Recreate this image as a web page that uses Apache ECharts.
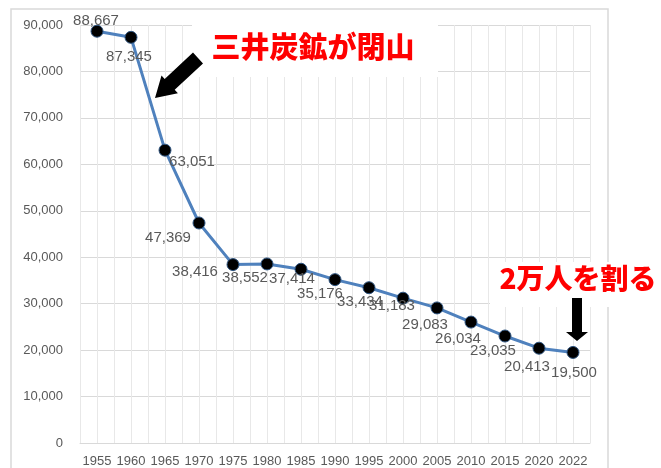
<!DOCTYPE html>
<html>
<head>
<meta charset="utf-8">
<script src="https://cdn.jsdelivr.net/npm/echarts@6/dist/echarts.min.js"></script>
<style>
  html, body { margin: 0; padding: 0; background: #fff; }
  #chart { width: 661px; height: 468px; }
</style>
</head>
<body>
<div id="chart"></div>
<script>
// 人口の推移
const years = ['1955', '1960', '1965', '1970', '1975', '1980', '1985', '1990', '1995', '2000', '2005', '2010', '2015', '2020', '2022'];
const population = [88667, 87345, 63051, 47369, 38416, 38552, 37414, 35176, 33434, 31183, 29083, 26034, 23035, 20413, 19500];
const yMin = 0;
const yMax = 90000;
const yStep = 10000;
const noteClose = '三井炭鉱が閉山';
const noteUnder = '2万人を割る';

// where each data label sits relative to its point (px)
const labelOffsets = [
  [-1, -10], [-2, 20], [27, 12], [-31, 15], [-38, 7], [-22, 14], [-9, 10], [-15, 14],
  [-9, 14], [-11, 8], [-12, 17], [-13, 17], [-12, 15], [-12, 19], [1, 20]
];

const chart = echarts.init(document.getElementById('chart'));

const gridColor = '#d9d9d9';
const textGray = '#595959';
const lineBlue = '#4f81bd';

const option = {
  backgroundColor: '#fff',
  animation: false,
  grid: { left: 80, right: 71, top: 25, bottom: 25, containLabel: false },
  xAxis: [
    {
      type: 'category',
      data: years,
      boundaryGap: true,
      axisLine: { show: true, lineStyle: { color: gridColor, width: 1 } },
      axisTick: { show: false },
      axisLabel: { color: textGray, fontSize: 13, margin: 12, interval: 0, fontFamily: 'Liberation Sans' },
      splitLine: { show: true, interval: 0, lineStyle: { color: '#e8e8e8', width: 1 } }
    },
    {
      // half-category vertical grid lines
      type: 'category',
      data: Array.from({ length: years.length * 2 }, (_, i) => String(i)),
      boundaryGap: true,
      position: 'bottom',
      axisLine: { show: false },
      axisTick: { show: false },
      axisLabel: { show: false },
      splitLine: { show: true, interval: 0, lineStyle: { color: '#e8e8e8', width: 1 } }
    }
  ],
  yAxis: {
    type: 'value',
    min: yMin,
    max: yMax,
    interval: yStep,
    axisLine: { show: false },
    axisTick: { show: false },
    axisLabel: {
      color: textGray,
      fontSize: 13,
      margin: 17,
      fontFamily: 'Liberation Sans',
      formatter: v => v.toLocaleString('en-US')
    },
    splitLine: { show: true, lineStyle: { color: gridColor, width: 1 } }
  },
  series: [
    {
      type: 'line',
      xAxisIndex: 0,
      data: population.map((v, i) => ({
        value: v,
        label: { offset: labelOffsets[i] }
      })),
      z: 5,
      lineStyle: { color: lineBlue, width: 3 },
      symbol: 'circle',
      symbolSize: 12,
      itemStyle: { color: '#000', borderColor: '#2e5480', borderWidth: 1 },
      label: {
        show: true,
        position: 'inside',
        align: 'center',
        verticalAlign: 'middle',
        color: textGray,
        fontSize: 15,
        fontFamily: 'Liberation Sans',
        formatter: p => p.value.toLocaleString('en-US')
      }
    }
  ],
  graphic: [
    {
      type: 'rect',
      shape: { x: 11, y: 9, width: 597, height: 475 },
      style: { fill: 'none', stroke: gridColor, lineWidth: 1.5 },
      silent: true,
      z: 1
    },
    {
      type: 'rect',
      shape: { x: 192, y: 22, width: 246, height: 55 },
      style: { fill: '#fff' },
      z: 100
    },
    {
      type: 'text',
      x: 313,
      y: 47,
      style: {
        text: noteClose,
        fill: '#ff0000',
        font: '900 29px "Noto Sans CJK JP"',
        align: 'center',
        verticalAlign: 'middle'
      },
      z: 101
    },
    {
      type: 'polygon',
      shape: {
        points: [[193, 52.6], [203, 63.4], [174.7, 89.8], [177.9, 93.2], [155, 98], [161.5, 75.6], [164.7, 79]]
      },
      style: { fill: '#000' },
      z: 102
    },
    {
      type: 'rect',
      shape: { x: 490, y: 262, width: 171, height: 45 },
      style: { fill: '#fff' },
      z: 100
    },
    {
      type: 'text',
      x: 578,
      y: 278,
      style: {
        text: noteUnder,
        fill: '#ff0000',
        font: '900 28px "Noto Sans CJK JP"',
        align: 'center',
        verticalAlign: 'middle'
      },
      z: 101
    },
    {
      type: 'polygon',
      shape: {
        points: [[572, 298], [582, 298], [582, 332], [588, 332], [577, 341], [566, 332], [572, 332]]
      },
      style: { fill: '#000' },
      z: 102
    }
  ]
};

chart.setOption(option);
window.addEventListener('resize', () => chart.resize());
</script>
</body>
</html>
